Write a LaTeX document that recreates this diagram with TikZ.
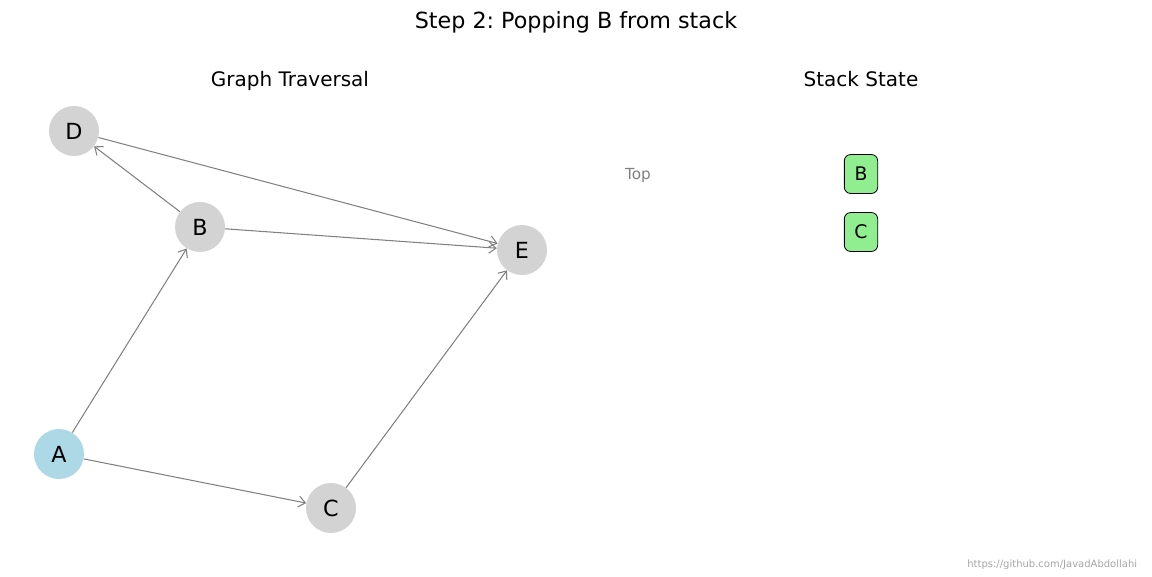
\documentclass[tikz,border=0pt]{standalone}
\usepackage{fontspec}
\setmainfont{DejaVu Sans}
\usetikzlibrary{arrows.meta}
\definecolor{nodegray}{RGB}{211,211,211}
\definecolor{nodeblue}{RGB}{173,216,230}
\definecolor{stackgreen}{RGB}{144,238,144}
\tikzset{
  vertex/.style={circle, fill=nodegray, minimum size=36pt, inner sep=0pt, font=\fontsize{16}{18}\selectfont},
  edge/.style={draw=gray, line width=0.75pt, -{Straight Barb[length=5pt,width=8pt]}},
  stackbox/.style={draw, fill=stackgreen, rounded corners=4.5pt, minimum width=24pt, minimum height=28pt, inner sep=0pt, line width=0.6pt, font=\fontsize{13.5}{15}\selectfont},
  heading/.style={font=\fontsize{14.4}{17}\selectfont, text depth=0pt}
}
\frenchspacing
\begin{document}
\begin{tikzpicture}[x=0.72pt, y=-0.72pt]
    \useasboundingbox (0,0) rectangle (1152,576);
    \node (title) at (576,22) {\fontsize{16}{19}\selectfont Step 2: Popping B from stack};
    \node[heading] (graphtitle) at (290,79) {Graph Traversal};
    \node[heading] (stacktitle) at (861,79) {Stack State};

    % graph
    \node[vertex] (D) at (74,131) {D};
    \node[vertex] (B) at (200,227) {B};
    \node[vertex] (E) at (522,250) {E};
    \node[vertex, fill=nodeblue] (A) at (59,454) {A};
    \node[vertex] (C) at (331,508) {C};

    \draw[edge] (A) -- (B);
    \draw[edge] (A) -- (C);
    \draw[edge] (B) -- (D);
    \draw[edge] (B) -- (E);
    \draw[edge] (D) -- (E);
    \draw[edge] (C) -- (E);

    % stack
    \node[text=gray, text depth=0pt] (top) at (638,174) {\fontsize{11}{13}\selectfont Top};
    \node[stackbox] (sB) at (861,174) {B};
    \node[stackbox] (sC) at (861,232) {C};

    \node[text=gray!70, anchor=east] (credit) at (1142,565) {\fontsize{7.2}{8}\selectfont https://github.com/JavadAbdollahi};
\end{tikzpicture}
\end{document}
